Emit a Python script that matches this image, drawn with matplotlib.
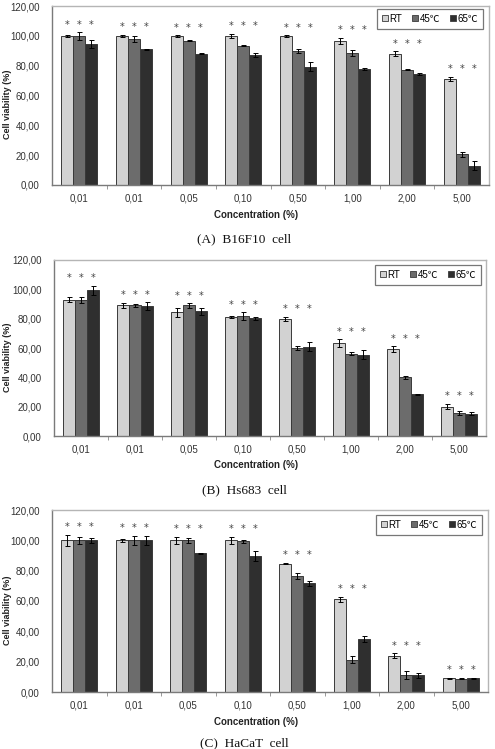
import matplotlib
matplotlib.use("Agg")
import matplotlib.pyplot as plt
import numpy as np
from matplotlib.lines import Line2D

plt.rcParams['font.family'] = ['Liberation Sans', 'Noto Sans CJK KR', 'DejaVu Sans']

categories = ["0,01", "0,01", "0,05", "0,10", "0,50", "1,00", "2,00", "5,00"]
series_names = ["RT", "45\u2103", "65\u2103"]
yticks = [0, 20, 40, 60, 80, 100, 120]
ytick_labels = ["0,00", "20,00", "40,00", "60,00", "80,00", "100,00", "120,00"]

# Panel A: B16F10
a_rt = [100.0, 100.0, 100.0, 100.0, 100.0, 96.6, 88.0, 71.1]
a_45 = [100.0, 98.0, 96.8, 93.3, 90.0, 88.8, 77.2, 20.6]
a_65 = [94.4, 91.0, 88.0, 87.2, 79.4, 77.6, 74.5, 12.8]
a_rt_err = [0.8, 0.8, 0.5, 1.5, 0.5, 2.0, 1.5, 1.5]
a_45_err = [2.5, 2.0, 0.3, 0.3, 1.5, 2.0, 0.3, 1.5]
a_65_err = [2.5, 0.3, 0.3, 1.5, 3.0, 0.8, 0.5, 3.0]

# Panel B: Hs683
b_rt = [93.0, 89.1, 84.3, 81.1, 79.8, 63.3, 59.2, 20.1]
b_45 = [92.6, 89.1, 89.1, 81.8, 59.9, 56.0, 40.0, 15.5]
b_65 = [99.4, 88.7, 85.0, 80.2, 60.8, 55.5, 28.3, 15.3]
b_rt_err = [1.5, 1.5, 3.0, 0.5, 1.5, 2.5, 2.0, 2.0]
b_45_err = [2.0, 1.0, 1.5, 2.5, 1.5, 1.0, 1.0, 1.5]
b_65_err = [3.0, 2.5, 2.5, 1.0, 3.0, 3.0, 0.5, 1.0]

# Panel C: HaCaT
c_rt = [100.0, 100.0, 100.0, 100.0, 84.6, 61.1, 24.0, 9.2]
c_45 = [100.0, 100.0, 100.0, 99.3, 76.7, 21.3, 11.2, 8.8]
c_65 = [100.0, 100.0, 91.4, 89.7, 71.6, 34.7, 11.0, 9.0]
c_rt_err = [3.5, 1.0, 2.5, 2.5, 0.5, 1.5, 1.5, 0.3]
c_45_err = [2.5, 3.0, 1.5, 1.0, 2.0, 2.5, 2.5, 0.3]
c_65_err = [1.5, 3.0, 0.5, 3.0, 1.5, 2.0, 1.5, 0.3]

captions = ["(A)  B16F10  cell", "(B)  Hs683  cell", "(C)  HaCaT  cell"]

panels = [
    (a_rt, a_45, a_65, a_rt_err, a_45_err, a_65_err),
    (b_rt, b_45, b_65, b_rt_err, b_45_err, b_65_err),
    (c_rt, c_45, c_65, c_rt_err, c_45_err, c_65_err),
]

colors = ["#d2d2d2", "#6c6c6c", "#2f2f2f"]
W, H = 495, 749
fig = plt.figure(figsize=(W / 100, H / 100), dpi=100)

# axes boxes in pixels: left, top, right, bottom
boxes = [(52, 6, 489, 185), (54, 260, 486, 436), (52, 510, 488, 692)]
xlabel_y = [215, 465, 722]
caption_y = [239, 490, 743]
legend_boxes = [(377, 9), (375, 265), (376, 515)]

for i, (vals, box) in enumerate(zip(panels, boxes)):
    l, t, r, b = box
    ax = fig.add_axes([l / W, 1 - b / H, (r - l) / W, (b - t) / H])
    x = np.arange(len(categories))
    w = 0.22
    series = vals[:3]
    errs = vals[3:]
    for k in range(3):
        ax.bar(x + (k - 1) * w, series[k], width=w, color=colors[k],
               edgecolor="#3a3a3a", linewidth=0.7, zorder=2)
        ax.errorbar(x + (k - 1) * w, series[k], yerr=errs[k], fmt="none",
                    ecolor="black", elinewidth=0.7, capsize=1.8, capthick=0.7, zorder=3)
    # significance stars
    tops = np.max([np.array(series[k]) + np.array(errs[k]) for k in range(3)], axis=0)
    for g in range(len(categories)):
        for k in range(3):
            ax.text(x[g] + (k - 1) * w, tops[g] + 5.0, "*", ha="center", va="center",
                    fontsize=7, color="#444444", family="DejaVu Sans")
    ax.set_xlim(-0.5, len(categories) - 0.5)
    ax.set_ylim(0, 120)
    ax.set_yticks(yticks)
    ax.set_yticklabels(ytick_labels, fontsize=7, color="#333333")
    ax.tick_params(axis="y", length=0, pad=9)
    ax.set_xticks(x)
    ax.set_xticklabels(categories, fontsize=7, color="#333333")
    ax.tick_params(axis="x", which="major", length=0, pad=6)
    ax.set_xticks(np.arange(0.5, len(categories) - 1, 1.0), minor=True)
    ax.tick_params(axis="x", which="minor", length=3, width=0.6, color="#888888", direction="out")
    for s in ["left", "bottom"]:
        ax.spines[s].set_color("#7a7a7a")
        ax.spines[s].set_linewidth(1.0)
    for s in ["top", "right"]:
        ax.spines[s].set_color("#b5b5b5")
        ax.spines[s].set_linewidth(1.0)
    ylab_y = t + 0.55 * (b - t)
    fig.text(7.5 / W, 1 - ylab_y / H, "Cell viability (%)", fontsize=6.5,
             fontweight="bold", rotation=90, ha="center", va="center", color="#222222")
    fig.text(256 / W, 1 - xlabel_y[i] / H, "Concentration (%)", fontsize=7,
             fontweight="bold", ha="center", va="center", color="#222222")
    fig.text(244 / W, 1 - caption_y[i] / H, captions[i], fontsize=9.5,
             family="Liberation Serif", ha="center", va="center", color="#111111")
    handles = [Line2D([], [], marker="s", linestyle="none", markersize=4,
                      markerfacecolor=colors[k], markeredgecolor="#3a3a3a",
                      markeredgewidth=0.6) for k in range(3)]
    lx, ly = legend_boxes[i]
    leg = ax.legend(handles, series_names, ncol=3, loc="upper left",
                    bbox_to_anchor=((lx - l) / (r - l), 1 - (ly - t) / (b - t)),
                    fontsize=7, frameon=True, fancybox=False, handlelength=0.6,
                    handletextpad=0.2, columnspacing=1.0, borderpad=0.5,
                    borderaxespad=0)
    leg.get_frame().set_edgecolor("#555555")
    leg.get_frame().set_linewidth(0.9)

fig.savefig("out.png", dpi=100)
